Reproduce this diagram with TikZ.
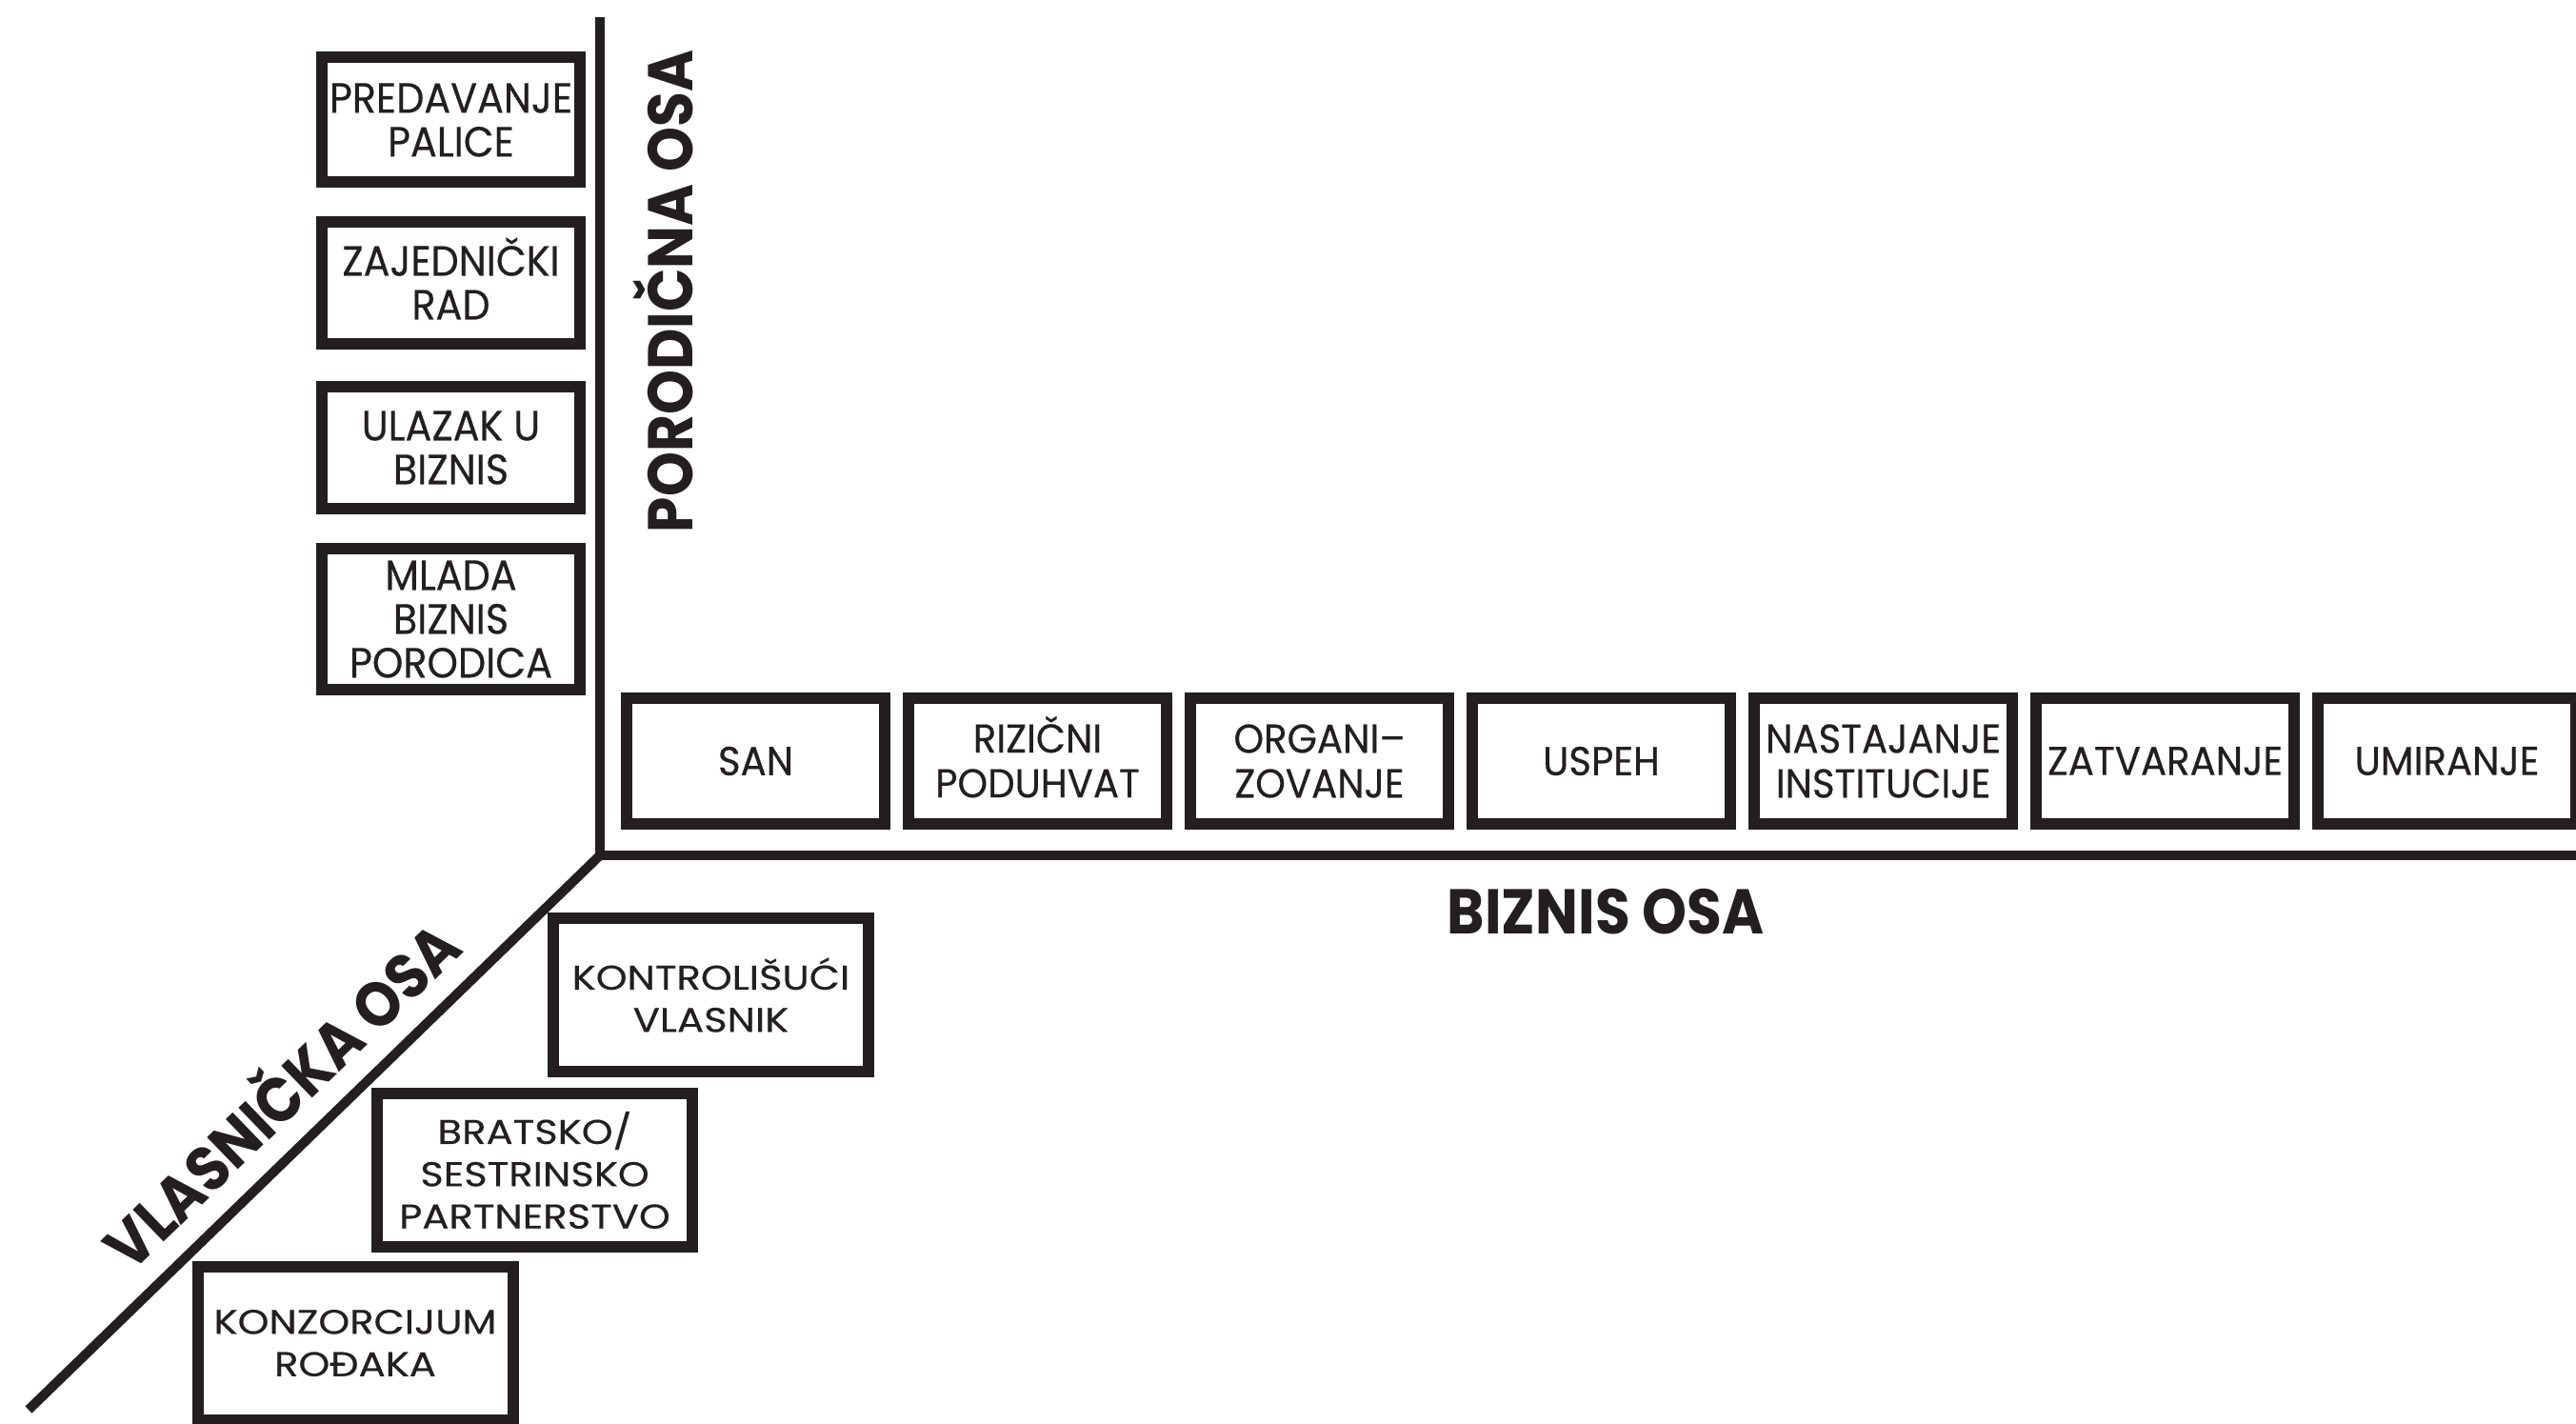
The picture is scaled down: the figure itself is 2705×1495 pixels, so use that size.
\documentclass[tikz,border=0pt]{standalone}
\usepackage{fontspec}
\newfontfamily\fleft[FakeStretch=0.93,FakeBold=0.4]{Poppins}
\newfontfamily\frow[FakeStretch=0.95,FakeBold=0.4]{Poppins}
\newfontfamily\fdiag[FakeStretch=1.16,FakeBold=0.4]{Poppins}
\newfontfamily\faxis[FakeStretch=0.9]{Poppins}
\definecolor{ink}{RGB}{35,31,32}
\begin{document}
\begin{tikzpicture}[x=0.25pt,y=-0.25pt,
  stagebox/.style={draw=ink, line width=3pt, inner sep=0pt, align=center, text=ink},
  leftbox/.style={stagebox, minimum width=67.75pt, font=\fleft\fontsize{11.1}{11.5}\selectfont},
  rowbox/.style={stagebox, minimum width=67.75pt, minimum height=33pt, font=\frow\fontsize{10.6}{11.75}\selectfont},
  diagbox/.style={stagebox, minimum width=82.75pt, minimum height=40.25pt, font=\fdiag\fontsize{9}{11.1}\selectfont},
  axisline/.style={draw=ink, line width=2.5pt},
  axislabel/.style={text=ink, inner sep=0pt, anchor=base, font=\faxis\bfseries\fontsize{16.6}{18}\selectfont}]
\useasboundingbox (0,0) rectangle (2705,1495);
% axes
\coordinate (O) at (630,898);
\coordinate (Vtop) at (630,18);
\coordinate (Hend) at (2712,898);
\coordinate (Dend) at (30,1480);
\draw[axisline] (Vtop) -- (O) -- (Hend);
\draw[axisline] (O) -- (Dend);
% axis labels
\node[axislabel, rotate=90] (famlab) at (727,306) {PORODIČNA OSA};
\node[axislabel] (bizlab) at (1686,980) {BIZNIS OSA};
\node[axislabel, rotate=44] (vlalab) at (313,1168) {VLASNIČKA OSA};
% family axis boxes
\node[leftbox, minimum height=32.75pt] (f1) at (473.5,126) {PREDAVANJE\\PALICE};
\node[leftbox, minimum height=32pt] (f2) at (473.5,297) {ZAJEDNI\smash{Č}KI\\RAD};
\node[leftbox, minimum height=32pt] (f3) at (473.5,470) {ULAZAK U\\BIZNIS};
\node[leftbox, minimum height=37pt] (f4) at (473.5,650) {MLADA\\BIZNIS\\PORODICA};
% business axis boxes
\node[rowbox] (b1) at (793.5,799) {SAN};
\node[rowbox] (b2) at (1089.5,799) {RIZI\smash{Č}NI\\PODUHVAT};
\node[rowbox] (b3) at (1385.5,799) {ORGANI–\\ZOVANJE};
\node[rowbox] (b4) at (1681.5,799) {USPEH};
\node[rowbox] (b5) at (1977.5,799) {NASTAJANJE\\INSTITUCIJE};
\node[rowbox] (b6) at (2273.5,799) {ZATVARANJE};
\node[rowbox] (b7) at (2569.5,799) {UMIRANJE};
% ownership axis boxes
\node[diagbox] (o1) at (746.5,1044.5) {KONTROLIŠUĆI\\VLASNIK};
\node[diagbox] (o2) at (561.5,1228.5) {BRATSKO/\\SESTRINSKO\\PARTNERSTVO};
\node[diagbox] (o3) at (373,1410) {KONZORCIJUM\\ROĐAKA};
\end{tikzpicture}
\end{document}
